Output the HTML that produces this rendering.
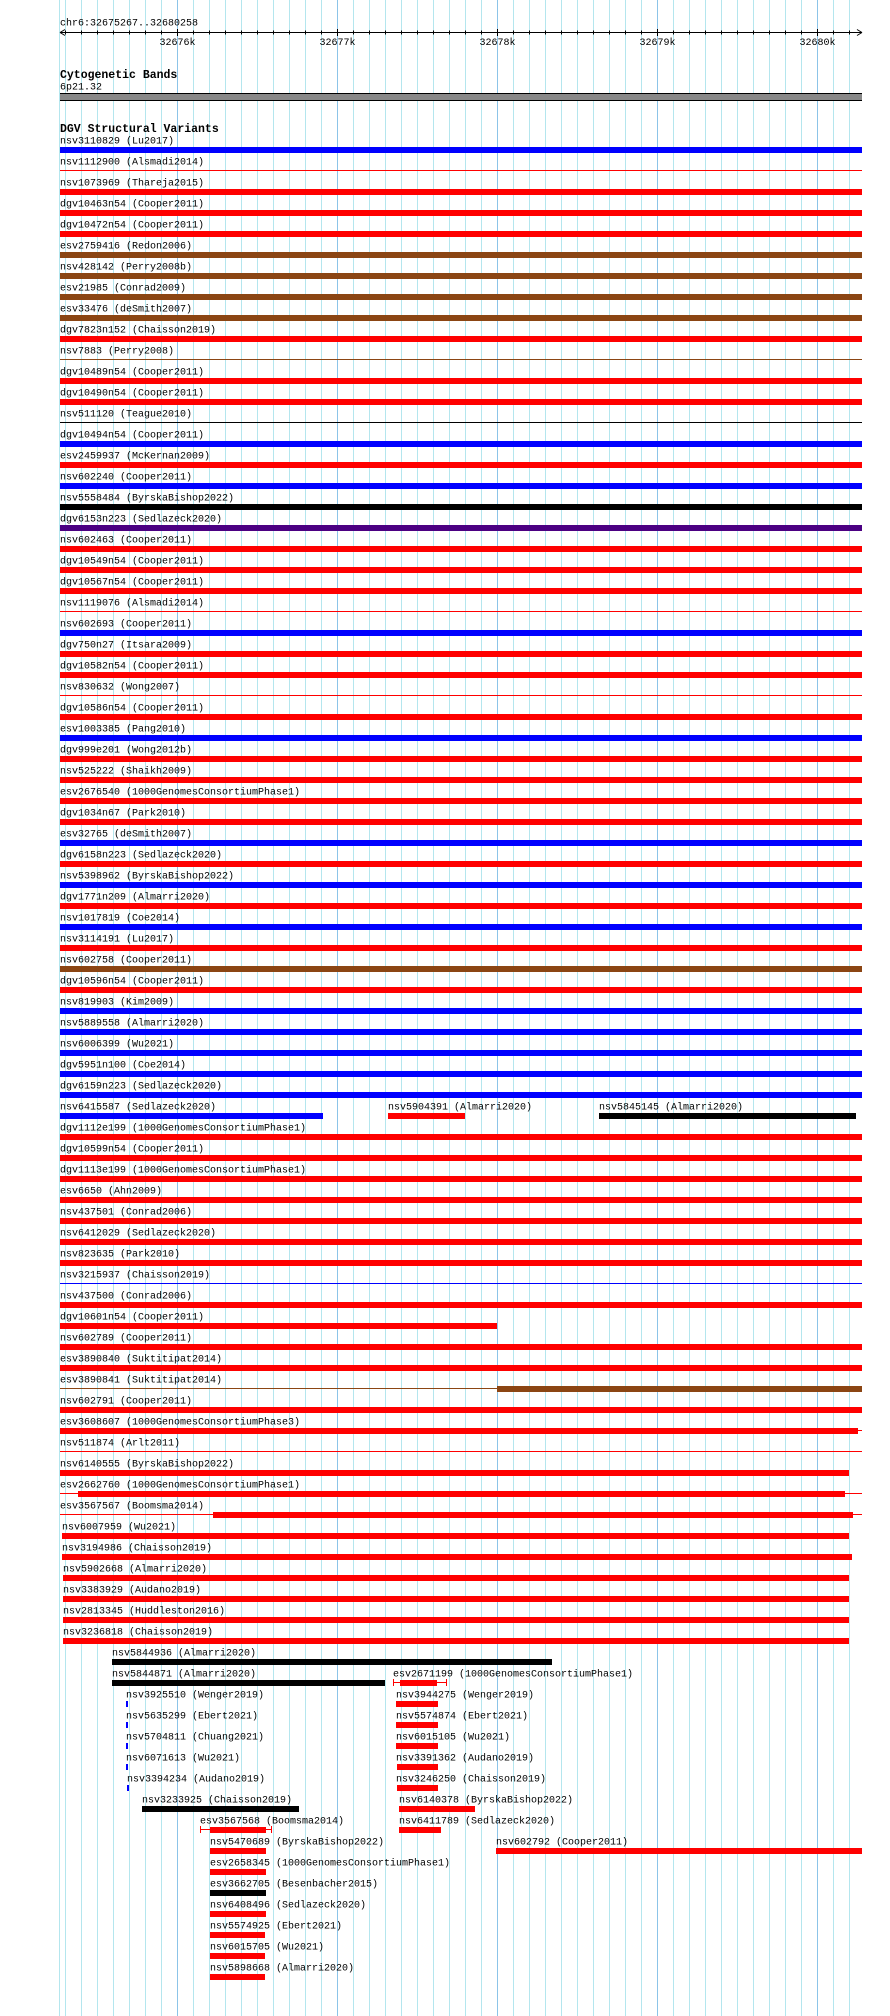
<!DOCTYPE html>
<html><head><meta charset="utf-8"><style>
html,body{margin:0;padding:0;background:#fff}
svg{display:block}
text{font-family:"Liberation Mono",monospace;font-size:10px;fill:#000}
.h{font-weight:bold;font-size:11.5px}
.r{fill:#ff0000}.b{fill:#0000ff}.n{fill:#8b4513}.k{fill:#000}.p{fill:#4b0082}
</style></head><body>
<svg width="890" height="2016" xmlns="http://www.w3.org/2000/svg">
<path d="M59.5 0V2016M65.5 0V2016M81.5 0V2016M97.5 0V2016M113.5 0V2016M129.5 0V2016M145.5 0V2016M161.5 0V2016M193.5 0V2016M209.5 0V2016M225.5 0V2016M241.5 0V2016M257.5 0V2016M273.5 0V2016M289.5 0V2016M305.5 0V2016M321.5 0V2016M353.5 0V2016M369.5 0V2016M385.5 0V2016M401.5 0V2016M417.5 0V2016M433.5 0V2016M449.5 0V2016M465.5 0V2016M481.5 0V2016M513.5 0V2016M529.5 0V2016M545.5 0V2016M561.5 0V2016M577.5 0V2016M593.5 0V2016M609.5 0V2016M625.5 0V2016M641.5 0V2016M673.5 0V2016M689.5 0V2016M705.5 0V2016M721.5 0V2016M737.5 0V2016M753.5 0V2016M769.5 0V2016M785.5 0V2016M801.5 0V2016M833.5 0V2016M849.5 0V2016" stroke="#b4e6ee" stroke-width="1"/>
<path d="M177.5 0V2016M337.5 0V2016M497.5 0V2016M657.5 0V2016M817.5 0V2016" stroke="#8cc4e8" stroke-width="1"/>

<text x="60" y="25.5">chr6:32675267..32680258</text>
<path d="M60 32.5H862M60 32.5l5 -3M60 32.5l5 3M862 32.5l-5 -3M862 32.5l-5 3" stroke="#000" fill="none"/>
<path d="M65.5 30.5v4M81.5 30.5v4M97.5 30.5v4M113.5 30.5v4M129.5 30.5v4M145.5 30.5v4M161.5 30.5v4M193.5 30.5v4M209.5 30.5v4M225.5 30.5v4M241.5 30.5v4M257.5 30.5v4M273.5 30.5v4M289.5 30.5v4M305.5 30.5v4M321.5 30.5v4M353.5 30.5v4M369.5 30.5v4M385.5 30.5v4M401.5 30.5v4M417.5 30.5v4M433.5 30.5v4M449.5 30.5v4M465.5 30.5v4M481.5 30.5v4M513.5 30.5v4M529.5 30.5v4M545.5 30.5v4M561.5 30.5v4M577.5 30.5v4M593.5 30.5v4M609.5 30.5v4M625.5 30.5v4M641.5 30.5v4M673.5 30.5v4M689.5 30.5v4M705.5 30.5v4M721.5 30.5v4M737.5 30.5v4M753.5 30.5v4M769.5 30.5v4M785.5 30.5v4M801.5 30.5v4M833.5 30.5v4M849.5 30.5v4M177.5 29v7M337.5 29v7M497.5 29v7M657.5 29v7M817.5 29v7" stroke="#000"/>
<text x="177.5" y="45" text-anchor="middle">32676k</text>
<text x="337.5" y="45" text-anchor="middle">32677k</text>
<text x="497.5" y="45" text-anchor="middle">32678k</text>
<text x="657.5" y="45" text-anchor="middle">32679k</text>
<text x="817.5" y="45" text-anchor="middle">32680k</text>

<text class="h" x="60" y="78">Cytogenetic Bands</text>
<text x="60" y="89.5">6p21.32</text>
<rect x="60" y="93" width="802" height="8" fill="#000"/>
<rect x="60" y="94" width="802" height="6" fill="#888"/>

<text class="h" x="60" y="132">DGV Structural Variants</text>

<g transform="translate(0,140)"><text x="60" y="3.5">nsv3110829 (Lu2017)</text><rect class="b" x="60" y="7" width="802" height="6"/></g>
<g transform="translate(0,161)"><text x="60" y="3.5">nsv1112900 (Alsmadi2014)</text><rect class="r" x="60" y="9" width="802" height="1"/></g>
<g transform="translate(0,182)"><text x="60" y="3.5">nsv1073969 (Thareja2015)</text><rect class="r" x="60" y="7" width="802" height="6"/></g>
<g transform="translate(0,203)"><text x="60" y="3.5">dgv10463n54 (Cooper2011)</text><rect class="r" x="60" y="7" width="802" height="6"/></g>
<g transform="translate(0,224)"><text x="60" y="3.5">dgv10472n54 (Cooper2011)</text><rect class="r" x="60" y="7" width="802" height="6"/></g>
<g transform="translate(0,245)"><text x="60" y="3.5">esv2759416 (Redon2006)</text><rect class="n" x="60" y="7" width="802" height="6"/></g>
<g transform="translate(0,266)"><text x="60" y="3.5">nsv428142 (Perry2008b)</text><rect class="n" x="60" y="7" width="802" height="6"/></g>
<g transform="translate(0,287)"><text x="60" y="3.5">esv21985 (Conrad2009)</text><rect class="n" x="60" y="7" width="802" height="6"/></g>
<g transform="translate(0,308)"><text x="60" y="3.5">esv33476 (deSmith2007)</text><rect class="n" x="60" y="7" width="802" height="6"/></g>
<g transform="translate(0,329)"><text x="60" y="3.5">dgv7823n152 (Chaisson2019)</text><rect class="r" x="60" y="7" width="802" height="6"/></g>
<g transform="translate(0,350)"><text x="60" y="3.5">nsv7883 (Perry2008)</text><rect class="n" x="60" y="9" width="802" height="1"/></g>
<g transform="translate(0,371)"><text x="60" y="3.5">dgv10489n54 (Cooper2011)</text><rect class="r" x="60" y="7" width="802" height="6"/></g>
<g transform="translate(0,392)"><text x="60" y="3.5">dgv10490n54 (Cooper2011)</text><rect class="r" x="60" y="7" width="802" height="6"/></g>
<g transform="translate(0,413)"><text x="60" y="3.5">nsv511120 (Teague2010)</text><rect class="k" x="60" y="9" width="802" height="1"/></g>
<g transform="translate(0,434)"><text x="60" y="3.5">dgv10494n54 (Cooper2011)</text><rect class="b" x="60" y="7" width="802" height="6"/></g>
<g transform="translate(0,455)"><text x="60" y="3.5">esv2459937 (McKernan2009)</text><rect class="r" x="60" y="7" width="802" height="6"/></g>
<g transform="translate(0,476)"><text x="60" y="3.5">nsv602240 (Cooper2011)</text><rect class="b" x="60" y="7" width="802" height="6"/></g>
<g transform="translate(0,497)"><text x="60" y="3.5">nsv5558484 (ByrskaBishop2022)</text><rect class="k" x="60" y="7" width="802" height="6"/></g>
<g transform="translate(0,518)"><text x="60" y="3.5">dgv6153n223 (Sedlazeck2020)</text><rect class="p" x="60" y="7" width="802" height="6"/></g>
<g transform="translate(0,539)"><text x="60" y="3.5">nsv602463 (Cooper2011)</text><rect class="r" x="60" y="7" width="802" height="6"/></g>
<g transform="translate(0,560)"><text x="60" y="3.5">dgv10549n54 (Cooper2011)</text><rect class="r" x="60" y="7" width="802" height="6"/></g>
<g transform="translate(0,581)"><text x="60" y="3.5">dgv10567n54 (Cooper2011)</text><rect class="r" x="60" y="7" width="802" height="6"/></g>
<g transform="translate(0,602)"><text x="60" y="3.5">nsv1119076 (Alsmadi2014)</text><rect class="r" x="60" y="9" width="802" height="1"/></g>
<g transform="translate(0,623)"><text x="60" y="3.5">nsv602693 (Cooper2011)</text><rect class="b" x="60" y="7" width="802" height="6"/></g>
<g transform="translate(0,644)"><text x="60" y="3.5">dgv750n27 (Itsara2009)</text><rect class="r" x="60" y="7" width="802" height="6"/></g>
<g transform="translate(0,665)"><text x="60" y="3.5">dgv10582n54 (Cooper2011)</text><rect class="r" x="60" y="7" width="802" height="6"/></g>
<g transform="translate(0,686)"><text x="60" y="3.5">nsv830632 (Wong2007)</text><rect class="r" x="60" y="9" width="802" height="1"/></g>
<g transform="translate(0,707)"><text x="60" y="3.5">dgv10586n54 (Cooper2011)</text><rect class="r" x="60" y="7" width="802" height="6"/></g>
<g transform="translate(0,728)"><text x="60" y="3.5">esv1003385 (Pang2010)</text><rect class="b" x="60" y="7" width="802" height="6"/></g>
<g transform="translate(0,749)"><text x="60" y="3.5">dgv999e201 (Wong2012b)</text><rect class="r" x="60" y="7" width="802" height="6"/></g>
<g transform="translate(0,770)"><text x="60" y="3.5">nsv525222 (Shaikh2009)</text><rect class="r" x="60" y="7" width="802" height="6"/></g>
<g transform="translate(0,791)"><text x="60" y="3.5">esv2676540 (1000GenomesConsortiumPhase1)</text><rect class="r" x="60" y="7" width="802" height="6"/></g>
<g transform="translate(0,812)"><text x="60" y="3.5">dgv1034n67 (Park2010)</text><rect class="r" x="60" y="7" width="802" height="6"/></g>
<g transform="translate(0,833)"><text x="60" y="3.5">esv32765 (deSmith2007)</text><rect class="b" x="60" y="7" width="802" height="6"/></g>
<g transform="translate(0,854)"><text x="60" y="3.5">dgv6158n223 (Sedlazeck2020)</text><rect class="r" x="60" y="7" width="802" height="6"/></g>
<g transform="translate(0,875)"><text x="60" y="3.5">nsv5398962 (ByrskaBishop2022)</text><rect class="b" x="60" y="7" width="802" height="6"/></g>
<g transform="translate(0,896)"><text x="60" y="3.5">dgv1771n209 (Almarri2020)</text><rect class="r" x="60" y="7" width="802" height="6"/></g>
<g transform="translate(0,917)"><text x="60" y="3.5">nsv1017819 (Coe2014)</text><rect class="b" x="60" y="7" width="802" height="6"/></g>
<g transform="translate(0,938)"><text x="60" y="3.5">nsv3114191 (Lu2017)</text><rect class="r" x="60" y="7" width="802" height="6"/></g>
<g transform="translate(0,959)"><text x="60" y="3.5">nsv602758 (Cooper2011)</text><rect class="n" x="60" y="7" width="802" height="6"/></g>
<g transform="translate(0,980)"><text x="60" y="3.5">dgv10596n54 (Cooper2011)</text><rect class="r" x="60" y="7" width="802" height="6"/></g>
<g transform="translate(0,1001)"><text x="60" y="3.5">nsv819903 (Kim2009)</text><rect class="b" x="60" y="7" width="802" height="6"/></g>
<g transform="translate(0,1022)"><text x="60" y="3.5">nsv5889558 (Almarri2020)</text><rect class="b" x="60" y="7" width="802" height="6"/></g>
<g transform="translate(0,1043)"><text x="60" y="3.5">nsv6006399 (Wu2021)</text><rect class="b" x="60" y="7" width="802" height="6"/></g>
<g transform="translate(0,1064)"><text x="60" y="3.5">dgv5951n100 (Coe2014)</text><rect class="b" x="60" y="7" width="802" height="6"/></g>
<g transform="translate(0,1085)"><text x="60" y="3.5">dgv6159n223 (Sedlazeck2020)</text><rect class="b" x="60" y="7" width="802" height="6"/></g>
<g transform="translate(0,1106)"><text x="60" y="3.5">nsv6415587 (Sedlazeck2020)</text><rect class="b" x="60" y="7" width="263" height="6"/>
<text x="388" y="3.5">nsv5904391 (Almarri2020)</text><rect class="r" x="388" y="7" width="77" height="6"/>
<text x="599" y="3.5">nsv5845145 (Almarri2020)</text><rect class="k" x="599" y="7" width="257" height="6"/></g>
<g transform="translate(0,1127)"><text x="60" y="3.5">dgv1112e199 (1000GenomesConsortiumPhase1)</text><rect class="r" x="60" y="7" width="802" height="6"/></g>
<g transform="translate(0,1148)"><text x="60" y="3.5">dgv10599n54 (Cooper2011)</text><rect class="r" x="60" y="7" width="802" height="6"/></g>
<g transform="translate(0,1169)"><text x="60" y="3.5">dgv1113e199 (1000GenomesConsortiumPhase1)</text><rect class="r" x="60" y="7" width="802" height="6"/></g>
<g transform="translate(0,1190)"><text x="60" y="3.5">esv6650 (Ahn2009)</text><rect class="r" x="60" y="7" width="802" height="6"/></g>
<g transform="translate(0,1211)"><text x="60" y="3.5">nsv437501 (Conrad2006)</text><rect class="r" x="60" y="7" width="802" height="6"/></g>
<g transform="translate(0,1232)"><text x="60" y="3.5">nsv6412029 (Sedlazeck2020)</text><rect class="r" x="60" y="7" width="802" height="6"/></g>
<g transform="translate(0,1253)"><text x="60" y="3.5">nsv823635 (Park2010)</text><rect class="r" x="60" y="7" width="802" height="6"/></g>
<g transform="translate(0,1274)"><text x="60" y="3.5">nsv3215937 (Chaisson2019)</text><rect class="b" x="60" y="9" width="802" height="1"/></g>
<g transform="translate(0,1295)"><text x="60" y="3.5">nsv437500 (Conrad2006)</text><rect class="r" x="60" y="7" width="802" height="6"/></g>
<g transform="translate(0,1316)"><text x="60" y="3.5">dgv10601n54 (Cooper2011)</text><rect class="r" x="60" y="7" width="437" height="6"/></g>
<g transform="translate(0,1337)"><text x="60" y="3.5">nsv602789 (Cooper2011)</text><rect class="r" x="60" y="7" width="802" height="6"/></g>
<g transform="translate(0,1358)"><text x="60" y="3.5">esv3890840 (Suktitipat2014)</text><rect class="r" x="60" y="7" width="802" height="6"/></g>
<g transform="translate(0,1379)"><text x="60" y="3.5">esv3890841 (Suktitipat2014)</text><rect class="n" x="60" y="9" width="437" height="1"/><rect class="n" x="497" y="7" width="365" height="6"/></g>
<g transform="translate(0,1400)"><text x="60" y="3.5">nsv602791 (Cooper2011)</text><rect class="r" x="60" y="7" width="802" height="6"/></g>
<g transform="translate(0,1421)"><text x="60" y="3.5">esv3608607 (1000GenomesConsortiumPhase3)</text><rect class="r" x="60" y="7" width="798" height="6"/><rect class="r" x="858" y="9" width="4" height="1"/></g>
<g transform="translate(0,1442)"><text x="60" y="3.5">nsv511874 (Arlt2011)</text><rect class="r" x="60" y="9" width="802" height="1"/></g>
<g transform="translate(0,1463)"><text x="60" y="3.5">nsv6140555 (ByrskaBishop2022)</text><rect class="r" x="60" y="7" width="789" height="6"/></g>
<g transform="translate(0,1484)"><text x="60" y="3.5">esv2662760 (1000GenomesConsortiumPhase1)</text><rect class="r" x="60" y="9" width="802" height="1"/><rect class="r" x="78" y="7" width="767" height="6"/></g>
<g transform="translate(0,1505)"><text x="60" y="3.5">esv3567567 (Boomsma2014)</text><rect class="r" x="60" y="9" width="802" height="1"/><rect class="r" x="213" y="7" width="640" height="6"/></g>
<g transform="translate(0,1526)"><text x="62" y="3.5">nsv6007959 (Wu2021)</text><rect class="r" x="62" y="7" width="787" height="6"/></g>
<g transform="translate(0,1547)"><text x="62" y="3.5">nsv3194986 (Chaisson2019)</text><rect class="r" x="62" y="7" width="790" height="6"/></g>
<g transform="translate(0,1568)"><text x="63" y="3.5">nsv5902668 (Almarri2020)</text><rect class="r" x="63" y="7" width="786" height="6"/></g>
<g transform="translate(0,1589)"><text x="63" y="3.5">nsv3383929 (Audano2019)</text><rect class="r" x="63" y="7" width="786" height="6"/></g>
<g transform="translate(0,1610)"><text x="63" y="3.5">nsv2813345 (Huddleston2016)</text><rect class="r" x="63" y="7" width="786" height="6"/></g>
<g transform="translate(0,1631)"><text x="63" y="3.5">nsv3236818 (Chaisson2019)</text><rect class="r" x="63" y="7" width="786" height="6"/></g>
<g transform="translate(0,1652)"><text x="112" y="3.5">nsv5844936 (Almarri2020)</text><rect class="k" x="112" y="7" width="440" height="6"/></g>
<g transform="translate(0,1673)"><text x="112" y="3.5">nsv5844871 (Almarri2020)</text><rect class="k" x="112" y="7" width="273" height="6"/>
<text x="393" y="3.5">esv2671199 (1000GenomesConsortiumPhase1)</text><rect class="r" x="393" y="9" width="54" height="1"/><rect class="r" x="393" y="6" width="1" height="7"/><rect class="r" x="446" y="6" width="1" height="7"/><rect class="r" x="400" y="7" width="37" height="6"/></g>
<g transform="translate(0,1694)"><text x="126" y="3.5">nsv3925510 (Wenger2019)</text><rect class="b" x="126" y="7" width="2" height="6"/>
<text x="396" y="3.5">nsv3944275 (Wenger2019)</text><rect class="r" x="396" y="7" width="42" height="6"/></g>
<g transform="translate(0,1715)"><text x="126" y="3.5">nsv5635299 (Ebert2021)</text><rect class="b" x="126" y="7" width="2" height="6"/>
<text x="396" y="3.5">nsv5574874 (Ebert2021)</text><rect class="r" x="396" y="7" width="42" height="6"/></g>
<g transform="translate(0,1736)"><text x="126" y="3.5">nsv5704811 (Chuang2021)</text><rect class="b" x="126" y="7" width="2" height="6"/>
<text x="396" y="3.5">nsv6015105 (Wu2021)</text><rect class="r" x="396" y="7" width="42" height="6"/></g>
<g transform="translate(0,1757)"><text x="126" y="3.5">nsv6071613 (Wu2021)</text><rect class="b" x="126" y="7" width="2" height="6"/>
<text x="396" y="3.5">nsv3391362 (Audano2019)</text><rect class="r" x="397" y="7" width="41" height="6"/></g>
<g transform="translate(0,1778)"><text x="127" y="3.5">nsv3394234 (Audano2019)</text><rect class="b" x="127" y="7" width="2" height="6"/>
<text x="396" y="3.5">nsv3246250 (Chaisson2019)</text><rect class="r" x="397" y="7" width="41" height="6"/></g>
<g transform="translate(0,1799)"><text x="142" y="3.5">nsv3233925 (Chaisson2019)</text><rect class="k" x="142" y="7" width="157" height="6"/>
<text x="399" y="3.5">nsv6140378 (ByrskaBishop2022)</text><rect class="r" x="399" y="7" width="76" height="6"/></g>
<g transform="translate(0,1820)"><text x="200" y="3.5">esv3567568 (Boomsma2014)</text><rect class="r" x="200" y="9" width="72" height="1"/><rect class="r" x="200" y="6" width="1" height="7"/><rect class="r" x="271" y="6" width="1" height="7"/><rect class="r" x="210" y="7" width="56" height="6"/>
<text x="399" y="3.5">nsv6411789 (Sedlazeck2020)</text><rect class="r" x="399" y="7" width="42" height="6"/></g>
<g transform="translate(0,1841)"><text x="210" y="3.5">nsv5470689 (ByrskaBishop2022)</text><rect class="r" x="210" y="7" width="56" height="6"/>
<text x="496" y="3.5">nsv602792 (Cooper2011)</text><rect class="r" x="496" y="7" width="366" height="6"/></g>
<g transform="translate(0,1862)"><text x="210" y="3.5">esv2658345 (1000GenomesConsortiumPhase1)</text><rect class="r" x="210" y="7" width="56" height="6"/></g>
<g transform="translate(0,1883)"><text x="210" y="3.5">esv3662705 (Besenbacher2015)</text><rect class="k" x="210" y="7" width="56" height="6"/></g>
<g transform="translate(0,1904)"><text x="210" y="3.5">nsv6408496 (Sedlazeck2020)</text><rect class="r" x="210" y="7" width="56" height="6"/></g>
<g transform="translate(0,1925)"><text x="210" y="3.5">nsv5574925 (Ebert2021)</text><rect class="r" x="210" y="7" width="55" height="6"/></g>
<g transform="translate(0,1946)"><text x="210" y="3.5">nsv6015705 (Wu2021)</text><rect class="r" x="210" y="7" width="55" height="6"/></g>
<g transform="translate(0,1967)"><text x="210" y="3.5">nsv5898668 (Almarri2020)</text><rect class="r" x="210" y="7" width="55" height="6"/></g>
</svg>
</body></html>
